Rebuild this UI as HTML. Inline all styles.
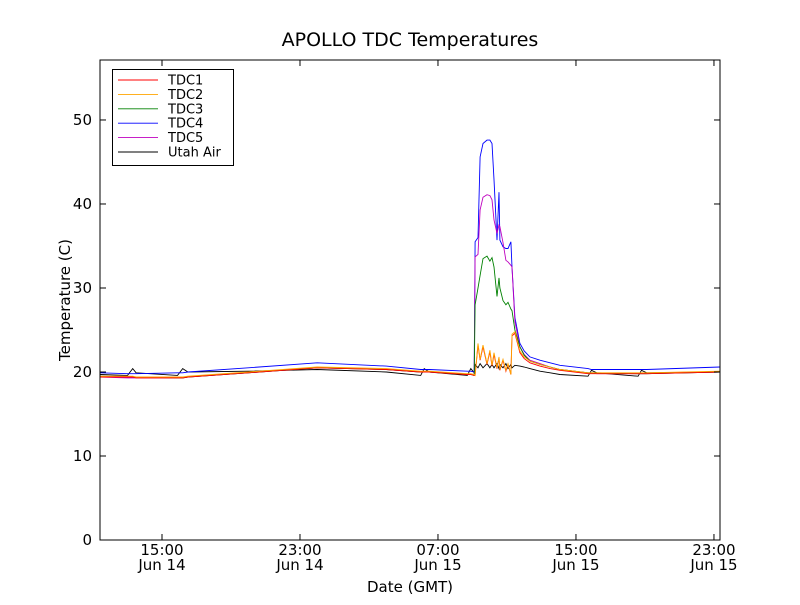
<!DOCTYPE html>
<html><head><meta charset="utf-8"><style>
body{margin:0;background:#fff;}
svg text{font-family:"DejaVu Sans","Liberation Sans",sans-serif;}
</style></head><body>
<svg id="c" width="800" height="600" xmlns="http://www.w3.org/2000/svg">
<rect x="0" y="0" width="800" height="600" fill="#fff"/>
<text x="410" y="46" font-size="19" text-anchor="middle">APOLLO TDC Temperatures</text>
<text x="410" y="592" font-size="15" text-anchor="middle">Date (GMT)</text>
<text transform="translate(70,300) rotate(-90)" font-size="15" text-anchor="middle">Temperature (C)</text>
<g id="plot"></g>
<g id="axes"></g>
</svg>
<script>
const times=[11.41,13.0,13.3,13.5,15.9,16.2,16.5,20,24,28,30.0,30.2,30.5,32.7,32.9,33.1,33.15,33.32,33.44,33.61,33.84,34.01,34.13,34.25,34.42,34.54,34.59,34.77,34.94,35.06,35.23,35.29,35.46,35.75,36.0,36.33,36.91,37.5,38.07,39.7,39.9,40.2,42.6,42.8,43.1,47.35];
const tdc1=[19.4,19.4,19.4,19.3,19.3,19.3,19.4,19.9,20.5,20.3,20.0,20.0,20.0,19.7,19.7,19.6,19.6,23.2,21.4,23.0,20.9,22.4,20.7,22.1,20.4,21.7,20.2,21.4,20.1,20.9,19.7,24.3,24.6,22.3,21.6,21.1,20.7,20.4,20.2,19.8,19.8,19.8,19.8,19.8,19.8,20.0];
const tdc2=[19.5,19.5,19.5,19.4,19.4,19.4,19.5,20.0,20.6,20.4,20.1,20.1,20.1,19.8,19.8,19.7,19.6,23.4,21.5,23.2,21.0,22.6,20.8,22.3,20.5,21.8,20.3,21.5,20.2,21.0,19.7,24.5,24.8,22.5,21.8,21.3,20.9,20.6,20.3,19.9,19.9,19.9,19.9,19.9,19.9,20.1];
const tdc3=[19.5,19.4,19.4,19.4,19.3,19.3,19.4,19.9,20.5,20.3,20.0,20.0,20.0,19.7,19.7,19.6,28.0,30.0,31.5,33.5,33.8,33.2,33.6,32.5,29.0,31.2,30.0,28.5,28.0,28.3,27.5,27.3,25.0,23.0,22.0,21.3,20.9,20.6,20.3,19.9,19.9,19.9,19.8,19.8,19.8,20.0];
const tdc4=[19.9,19.8,19.8,19.8,19.9,19.9,20.0,20.5,21.1,20.7,20.3,20.3,20.3,20.1,20.1,20.0,35.5,36.0,45.6,47.2,47.6,47.6,47.2,42.9,35.7,41.4,35.7,34.9,34.7,34.7,35.5,32.5,26.5,23.4,22.5,21.8,21.4,21.1,20.8,20.4,20.3,20.3,20.3,20.3,20.3,20.6];
const tdc5=[19.4,19.3,19.3,19.3,19.3,19.3,19.4,19.9,20.5,20.3,20.0,20.0,20.0,19.7,19.7,19.6,33.7,34.0,39.3,40.8,41.1,41.0,40.5,38.1,36.5,37.5,37.3,35.4,33.3,33.1,32.7,32.5,26.0,23.0,22.1,21.4,21.0,20.6,20.3,19.9,19.9,19.8,19.8,19.8,19.8,20.0];
const air=[19.7,19.6,20.4,19.9,19.6,20.4,20.0,20.1,20.3,20.0,19.6,20.4,20.0,19.6,20.4,19.9,20.9,20.5,21.0,20.5,21.0,20.5,20.9,20.5,21.0,20.4,20.9,20.5,21.0,20.4,20.9,20.5,20.8,20.7,20.6,20.4,20.1,19.9,19.7,19.5,20.2,19.9,19.5,20.2,19.9,20.0];
const seriesNames=["TDC1","TDC2","TDC3","TDC4","TDC5","Utah Air"];
const seriesColors=["#ff0000","#ffa500","#008000","#0000ff","#bf00bf","#000000"];
const xTickHours=[15,23,31,39,47];
const xTickLabels1=["15:00","23:00","07:00","15:00","23:00"];
const xTickLabels2=["Jun 14","Jun 14","Jun 15","Jun 15","Jun 15"];
const yTicks=[0,10,20,30,40,50];

const L=100,R=720,T=60,B=540,X0=11.406,X1=47.35,Y0=0,Y1=57.14;
const sx=h=>L+(h-X0)/(X1-X0)*(R-L);
const sy=v=>B-(v-Y0)/(Y1-Y0)*(B-T);
const NS="http://www.w3.org/2000/svg";
function mk(tag,attrs,parent){const e=document.createElementNS(NS,tag);for(const k in attrs)e.setAttribute(k,attrs[k]);parent.appendChild(e);return e;}
const plot=document.getElementById('plot'),axes=document.getElementById('axes');
const cp=mk('clipPath',{id:'cp'},plot);
mk('rect',{x:L,y:T,width:R-L,height:B-T},cp);
const data=[tdc1,tdc2,tdc3,tdc4,tdc5,air];
const order=[5,3,4,2,0,1];
order.forEach(i=>{
  const d=times.map((t,j)=>(j?'L':'M')+sx(t).toFixed(1)+','+sy(data[i][j]).toFixed(1)).join('');
  const p=mk('path',{d:d,fill:'none',stroke:seriesColors[i],'stroke-width':0.9,'clip-path':'url(#cp)'},plot);
  
  
});
const frame=mk('rect',{x:L,y:T,width:R-L,height:B-T,fill:'none',stroke:'#000','stroke-width':1},axes);


yTicks.forEach(v=>{
  const y=sy(v);
  mk('line',{x1:L,x2:L+6,y1:y,y2:y,stroke:'#000'},axes);
  mk('line',{x1:R,x2:R-6,y1:y,y2:y,stroke:'#000'},axes);
  const t=mk('text',{x:L-8,y:y+5,'font-size':15,'text-anchor':'end'},axes);t.textContent=v;
  
  
});
xTickHours.forEach((h,i)=>{
  const x=sx(h);
  mk('line',{x1:x,x2:x,y1:B,y2:B-6,stroke:'#000'},axes);
  mk('line',{x1:x,x2:x,y1:T,y2:T+6,stroke:'#000'},axes);
  const t=mk('text',{x:x,y:B+15,'font-size':15,'text-anchor':'middle'},axes);t.textContent=xTickLabels1[i];
  
  
  const t2=mk('text',{x:x,y:B+30,'font-size':15,'text-anchor':'middle'},axes);t2.textContent=xTickLabels2[i];
  
  
});
const lg=mk('g',{},axes);


mk('rect',{x:112.5,y:69.5,width:121,height:96,fill:'#fff',stroke:'#000'},lg);
seriesNames.forEach((n,i)=>{
  const y=80+i*14.4;
  mk('line',{x1:118,x2:158,y1:y,y2:y,stroke:seriesColors[i],'stroke-width':0.9},lg);
  const t=mk('text',{x:168,y:y+4.5,'font-size':13},lg);t.textContent=n;
  
  
});
</script>
</body></html>
